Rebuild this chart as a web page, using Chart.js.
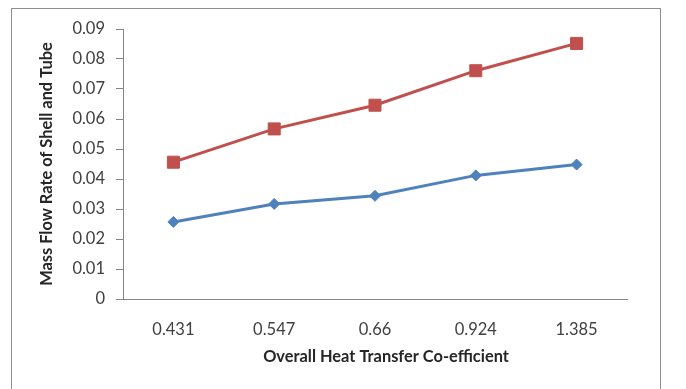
<!DOCTYPE html>
<html>
<head>
<meta charset="utf-8">
<script src="https://cdn.jsdelivr.net/npm/chart.js@4/dist/chart.umd.min.js"></script>
<style>
  html, body { margin: 0; padding: 0; background: #ffffff; overflow: hidden; }
  #wrap { position: relative; width: 686px; height: 389px; }
  #frame { position: absolute; left: 11px; top: 8px; width: 650px; height: 400px;
           border: 1px solid #8e8e8e; box-sizing: border-box; }
  #chart { position: absolute; left: 0; top: 0; }
</style>
</head>
<body>
<div id="wrap">
  <div id="frame"></div>
  <canvas id="chart" width="686" height="389"></canvas>
</div>
<script>
// Overall heat transfer coefficient (category labels)
const coefficients = ['0.431', '0.547', '0.66', '0.924', '1.385'];
// Mass flow rate, lower series (blue diamonds)
const tubeFlow = [0.0257, 0.0317, 0.0344, 0.0412, 0.0448];
// Mass flow rate, upper series (red squares)
const shellFlow = [0.0456, 0.0567, 0.0646, 0.0761, 0.0852];

const yTitle = 'Mass Flow Rate of Shell and Tube';
const xTitle = 'Overall Heat Transfer Co-efficient';

const FONT = 'Lato, "Open Sans", sans-serif';
const AXIS_GRAY = '#868686';
const TEXT = '#404040';

// Draws the horizontal axis title centred under the plot
const xTitlePlugin = {
  id: 'xTitle',
  afterDraw(chart) {
    const ctx = chart.ctx;
    ctx.save();
    ctx.font = 'bold 16.4px ' + FONT;
    ctx.fillStyle = '#262626';
    ctx.textAlign = 'center';
    ctx.textBaseline = 'middle';
    ctx.fillText(xTitle, chart.chartArea.left + 263, 357);
    ctx.restore();
  }
};

new Chart(document.getElementById('chart'), {
  type: 'line',
  data: {
    labels: coefficients,
    datasets: [
      {
        label: 'Tube',
        data: tubeFlow,
        borderColor: '#4F81BD',
        backgroundColor: '#4F81BD',
        borderWidth: 3,
        pointStyle: 'rectRot',
        pointRadius: 5.5,
        pointBorderWidth: 1,
        tension: 0
      },
      {
        label: 'Shell',
        data: shellFlow,
        borderColor: '#C0504D',
        backgroundColor: '#C0504D',
        borderWidth: 3,
        pointStyle: 'rect',
        pointRadius: 8.5,
        pointBorderWidth: 1,
        tension: 0
      }
    ]
  },
  options: {
    responsive: false,
    animation: false,
    layout: { padding: { left: 0, top: 29, right: 59, bottom: 0 } },
    plugins: {
      legend: { display: false },
      tooltip: { enabled: false }
    },
    scales: {
      x: {
        offset: true,
        grid: { display: false },
        border: { display: true, color: AXIS_GRAY, width: 1 },
        ticks: {
          color: TEXT,
          font: { family: FONT, size: 16.5 },
          padding: 13,
          maxRotation: 0
        },
        afterFit(scale) { scale.height = 90; }
      },
      y: {
        min: 0,
        max: 0.09,
        grid: {
          drawOnChartArea: false,
          drawTicks: true,
          tickLength: 7,
          color: AXIS_GRAY
        },
        border: { display: true, color: AXIS_GRAY, width: 1 },
        ticks: {
          stepSize: 0.01,
          color: TEXT,
          font: { family: FONT, size: 16.5 },
          padding: 11,
          callback: (v) => (v === 0 ? '0' : Number(v).toFixed(2))
        },
        title: {
          display: true,
          text: yTitle,
          color: '#262626',
          font: { family: FONT, size: 16.4, weight: 'bold' },
          padding: { top: 37, bottom: 0 }
        },
        afterFit(scale) { scale.width = 123; }
      }
    }
  },
  plugins: [xTitlePlugin]
});
</script>
</body>
</html>
